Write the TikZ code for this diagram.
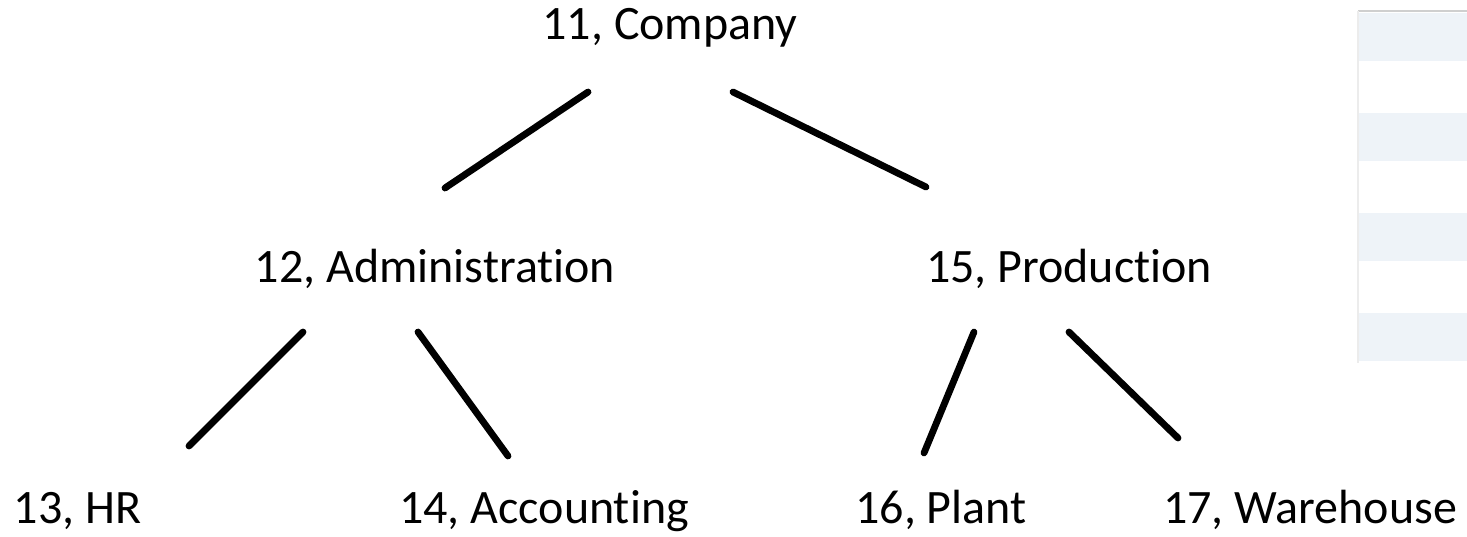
\documentclass[tikz,border=0pt]{standalone}
\usepackage{fontspec}
\setmainfont{Carlito}[Ligatures=NoCommon]
\usepackage{tikz}
\usetikzlibrary{calc}

\definecolor{stripe}{HTML}{EEF3F8}
\definecolor{rulegray}{HTML}{CFCFCF}

\begin{document}
\begin{tikzpicture}[x=0.5pt, y=-0.5pt,
    lbl/.style={anchor=base, font=\fontsize{24}{29}\selectfont},
    link/.style={line width=3.4pt, line cap=round}]
    \useasboundingbox (0, 0) rectangle (1467, 536);

    % table fragment on the right
    \fill [white] (1358, 11) rectangle (1467, 363);
    \foreach \y in {13, 113, 213, 313} {
      \fill [stripe] (1358, \y) rectangle (1467, \y + 48);
    }
    \draw [rulegray, line width=1.2pt] (1358, 11) -- (1467, 11);
    \draw [gray!15, line width=0.8pt] (1358, 11) -- (1358, 363);

    \node [lbl] (company) at (670, 39) {11, Company};
    \node [lbl] (admin) at (435, 282) {12, Administration};
    \node [lbl] (prod) at (1069, 282) {15, Production};
    \node [lbl] (hr) at (77.5, 523) {13, HR};
    \node [lbl] (acc) at (544, 523) {14, Accounting};
    \node [lbl] (plant) at (941, 523) {16, Plant};
    \node [lbl] (store) at (1310, 523) {17, Warehouse};

    \draw [link] ($(company.base)+(-82, 53)$) -- ($(admin.base)+(10, -94)$);
    \draw [link] ($(company.base)+(63, 53)$) -- ($(prod.base)+(-143, -95)$);
    \draw [link] ($(admin.base)+(-132, 50)$) -- ($(hr.base)+(111.5, -77)$);
    \draw [link] ($(admin.base)+(-17, 50)$) -- ($(acc.base)+(-36, -67)$);
    \draw [link] ($(prod.base)+(-95, 50)$) -- ($(plant.base)+(-17, -70)$);
    \draw [link] ($(prod.base)+(0, 50)$) -- ($(store.base)+(-132, -85)$);
  \end{tikzpicture}
\end{document}
